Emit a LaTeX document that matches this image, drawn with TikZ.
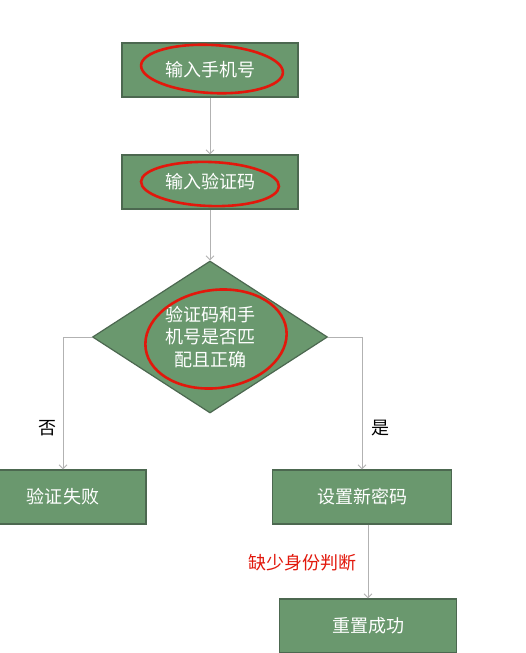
\documentclass[tikz,border=0pt]{standalone}
\usepackage{fontspec}
\setmainfont{Noto Sans CJK SC}
\usetikzlibrary{shapes.geometric,arrows,arrows.meta}
\definecolor{boxgreen}{RGB}{106,152,110}
\definecolor{boxedge}{RGB}{76,104,80}
\definecolor{linegray}{RGB}{178,178,178}
\definecolor{markred}{RGB}{226,24,12}
\tikzset{t/.style={font=\fontsize{18}{22.5}\selectfont}}
\tikzset{b/.style={t, draw=boxedge, line width=1.2pt, fill=boxgreen, text=white,
    minimum width=176pt, minimum height=54pt, inner sep=0pt}}
\tikzset{d/.style={t, diamond, draw=boxedge, line width=1.2pt, fill=boxgreen, text=white,
    minimum width=235pt, minimum height=152pt, inner sep=0pt, align=center}}
\tikzset{a/.style={draw=linegray, line width=0.9pt, >={Straight Barb[length=4pt,width=8pt]}}}
\tikzset{redmark/.style={draw=markred, line width=2.6pt}}

\begin{document}
\begin{tikzpicture}[x=1pt,y=-1pt]
    \useasboundingbox[fill=white] (0,0) rectangle (526,653);
    \node[b] (phone) at (210,70) {输入手机号};
    \node[b] (code) at (210,182) {输入验证码}
      edge [<-, a] (phone);
    \node[d] (check) at (210,337) {验证码和手\\机号是否匹\\配且正确}
      edge [<-, a] (code);
    \node[b, minimum width=166pt] (fail) at (63,497) {验证失败};
    \node[b, minimum width=179pt] (newpw) at (362,497) {设置新密码};
    \node[b, minimum width=177pt] (done) at (368,626) {重置成功};
    \draw[->, a] (check.west) -| (fail.north);
    \draw[->, a] (check.east) -| (newpw.north);
    \draw[->, a] (newpw.south -| done.north) -- (done.north);
    \node[t] (no) at (47,428) {否};
    \node[t] (yes) at (380,428) {是};
    \node[t, text=markred] (note) at (302,563) {缺少身份判断};
    % hand-drawn marks
    \draw[redmark, rotate around={-3:(212,69)}] (212,69) ellipse [x radius=71, y radius=24];
    \draw[redmark, rotate around={-2:(210,184)}] (210,184) ellipse [x radius=69, y radius=22];
    \draw[redmark, rotate around={8:(216,339)}] (216,339) ellipse [x radius=71, y radius=49];
  \end{tikzpicture}
\end{document}
